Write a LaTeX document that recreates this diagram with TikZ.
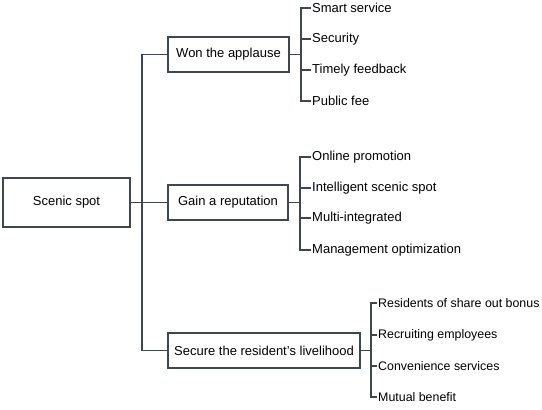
\documentclass[tikz,border=0pt]{standalone}
\usepackage{fontspec}
\setmainfont{Liberation Sans}
\usepackage{tikz}
\usetikzlibrary{positioning}
\definecolor{TreeGray}{HTML}{3E4650}

\begin{document}
\begin{tikzpicture}[
  x=1pt, y=-1pt,
  font=\fontsize{13}{15}\selectfont,
  box/.style={draw=TreeGray, line width=1.8pt, align=center, minimum height=35pt, inner sep=0pt},
  leaf/.style={anchor=west, inner xsep=1pt, inner ysep=0pt},
  small/.style={leaf, font=\fontsize{12.4}{14}\selectfont},
  link/.style={draw=TreeGray, line width=1.8pt}
]
\useasboundingbox (0,0) rectangle (542,410);
% root and branches
\node[box, minimum width=127pt, minimum height=49pt] (spot) at (66.5,202.5) {Scenic spot};
\node[box, minimum width=121pt] (won) at (228.5,54.5) {Won the applause};
\node[box, minimum width=120pt] (gain) at (228,202.5) {Gain a reputation};
\node[box, minimum width=192pt] (secure) at (264,350.5) {Secure the resident's livelihood};
% leaves
\node[leaf] (smart) at (311,8) {Smart service};
\node[leaf] (security) at (311,39) {Security};
\node[leaf] (feedback) at (311,70) {Timely feedback};
\node[leaf] (fee) at (311,101) {Public fee};
\node[leaf] (online) at (311,157) {Online promotion};
\node[leaf] (intel) at (311,188) {Intelligent scenic spot};
\node[leaf] (multi) at (311,218) {Multi-integrated};
\node[leaf] (manage) at (311,250) {Management optimization};
\node[small] (bonus) at (377,303) {Residents of share out bonus};
\node[small] (recruit) at (377,335) {Recruiting employees};
\node[small] (conven) at (377,366) {Convenience services};
\node[small] (mutual) at (377,397) {Mutual benefit};
% connectors
\draw[link] (spot.east) -- ++(11,0) coordinate (trunk);
\draw[link] (trunk) |- (won.west);
\draw[link] (trunk) -- (gain.west);
\draw[link] (trunk) |- (secure.west);
\foreach \leaf in {smart,security,feedback,fee}
  \draw[link] (won.east) -- ++(11,0) |- (\leaf.west);
\foreach \leaf in {online,intel,multi,manage}
  \draw[link] (gain.east) -- ++(11,0) |- (\leaf.west);
\foreach \leaf in {bonus,recruit,conven,mutual}
  \draw[link] (secure.east) -- ++(10,0) |- (\leaf.west);
\end{tikzpicture}
\end{document}
